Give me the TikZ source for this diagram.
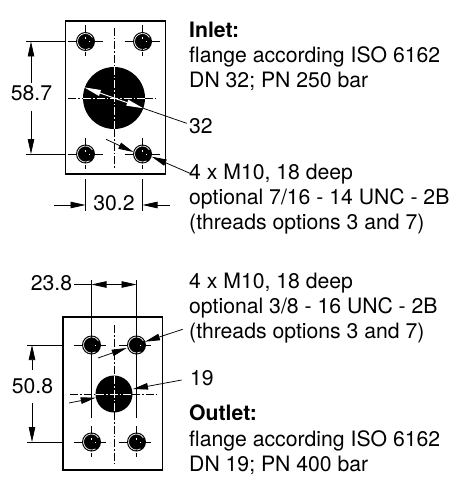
\documentclass[tikz,border=0pt]{standalone}
\usepackage{fontspec}
\setmainfont{TeX Gyre Heros}
\usetikzlibrary{arrows.meta}
\tikzset{
  x=1pt,y=-1pt,
  plate/.style={draw=black,line width=1.1pt,fill=white},
  centerline/.style={line width=0.7pt,dash pattern=on 8pt off 2pt on 1.5pt off 2pt},
  centerw/.style={draw=white,line width=0.8pt,dash pattern=on 8pt off 2pt on 1.5pt off 2pt},
  dim/.style={line width=0.75pt},
  arr/.style={line width=0.75pt,-{Triangle[length=15pt,width=6.5pt]}},
  arrw/.style={draw=white,line width=1pt,-{Triangle[length=17pt,width=6pt,fill=white]}},
  lbl/.style={inner sep=0pt,anchor=base west,font=\fontsize{21.2}{25}\selectfont},
  dimlbl/.style={inner sep=0pt,anchor=base,font=\fontsize{21.2}{25}\selectfont},
}
\newcommand{\bolthole}[3]{%
  \fill[black] (#1,#2) circle[radius=#3];
  \draw[white,line width=0.7pt] (#1,#2) ++(-30:#3-1.5) arc[start angle=-30,end angle=-300,radius=#3-1.5];
  \draw[white,line width=0.6pt] (#1-4,#2)--(#1+4,#2) (#1,#2-4)--(#1,#2+4);
}
\begin{document}
\begin{tikzpicture}
\useasboundingbox (0,0) rectangle (462,484);
% top plate
\draw[plate] (65.5,21) rectangle (165.5,174);
\fill (114,98) circle[radius=31];
\foreach \a/\b in {85.5/41.5,142.5/41.5,85.5/154,142.5/154}{
  \bolthole{\a}{\b}{9.5}
  \draw[centerline] (\a-18,\b)--(\a+18,\b);
  \draw[centerline] (\a,\b-16)--(\a,\b+15);
}
\draw[centerline] (114,28)--(114,67);
\draw[centerline] (114,129)--(114,169);
\draw[centerline] (68,98)--(83,98);
\draw[centerline] (145,98)--(156,98);
\draw[centerw] (114,67)--(114,129);
\draw[centerw] (83,98)--(145,98);
% top dims
\draw[dim] (26,41.5)--(65,41.5) (26,154)--(65,154);
\node[dimlbl] (d587) at (31.5,101) {58.7};
\coordinate (e1) at (31,41.5); \coordinate (e2) at (31,154);
\draw[arr] (31,83)--(e1);
\draw[arr] (31,111)--(e2);
\draw[dim] (85.5,179)--(85.5,211) (142.5,179)--(142.5,211);
\node[dimlbl] (d302) at (114,210.5) {30.2};
\draw[arr] (54,205)--(85.5,205);
\draw[arr] (170,205)--(142.5,205);
\node[lbl] (n32) at (189,133) {32};
\coordinate (c32) at (186.7,123.3);
\draw[dim] (c32)--(143.3,108.3);
\draw[arrw] (114,98)--(84,87.3);
\draw[arrw] (114,98)--(143.3,108.3);
\coordinate (s1) at (106,139.3);
\draw[arr] (s1)--(133.3,152);
\coordinate (s2) at (190,173.3);
\draw[arr] (s2)--(151.7,156.7);
% top text
\node[lbl] at (189,38) {\bfseries Inlet:};
\node[lbl] at (189,63) {flange according ISO 6162};
\node[lbl] at (189,88) {DN 32; PN 250 bar};
\node[lbl] at (189,179) {4 x M10, 18 deep};
\node[lbl] at (189,204) {optional 7/16 - 14 UNC - 2B};
\node[lbl] at (189,229) {(threads options 3 and 7)};
% bottom plate
\draw[plate] (63,317) rectangle (162.5,470);
\fill (114,394) circle[radius=18.5];
\foreach \a/\b in {91.5/345,136.5/345,91.5/442,136.5/442}{
  \bolthole{\a}{\b}{9.5}
}
\foreach \a/\b in {91.5/442,136.5/442}{
  \draw[centerline] (\a-18,\b)--(\a+14,\b);
  \draw[centerline] (\a,\b-16)--(\a,\b+15);
}
\foreach \a/\b in {91.5/345,136.5/345}{
  \draw[centerline] (\a-18,\b)--(\a+14,\b);
}
\draw[dim] (91.5,280)--(91.5,418) (136.5,280)--(136.5,418);
\draw[centerline] (114,325)--(114,376);
\draw[centerline] (114,412)--(114,465);
\draw[centerline] (70,394)--(96,394);
\draw[centerline] (132,394)--(158,394);
\draw[centerw] (114,376)--(114,412);
\draw[centerw] (96,394)--(132,394);
% bottom dims
\node[dimlbl] (d238) at (51.5,290) {23.8};
\draw[dim] (74,284.5)--(91.5,284.5);
\draw[arr] (114,284.5)--(91.5,284.5);
\draw[arr] (114,284.5)--(136.5,284.5);
\draw[dim] (27,345)--(63,345) (27,442)--(63,442);
\node[dimlbl] (d508) at (32.5,393) {50.8};
\coordinate (e3) at (32,345); \coordinate (e4) at (32,442);
\draw[arr] (32,370)--(e3);
\draw[arr] (32,403)--(e4);
\coordinate (t1) at (182.7,329.3);
\draw[arr] (t1)--(145,341.7);
\coordinate (t2) at (98,358);
\draw[arr] (t2)--(126.7,348);
\coordinate (t3) at (181.7,380);
\draw[arr] (t3)--(133,389);
\coordinate (t4) at (69,403);
\draw[arr] (t4)--(95.7,397.7);
% bottom text
\node[lbl] at (189,288) {4 x M10, 18 deep};
\node[lbl] at (189,313) {optional 3/8 - 16 UNC - 2B};
\node[lbl] at (189,338) {(threads options 3 and 7)};
\node[lbl] at (190,385) {19};
\node[lbl] at (189,420.5) {\bfseries Outlet:};
\node[lbl] at (189,446) {flange according ISO 6162};
\node[lbl] at (189,471) {DN 19; PN 400 bar};
\end{tikzpicture}
\end{document}
